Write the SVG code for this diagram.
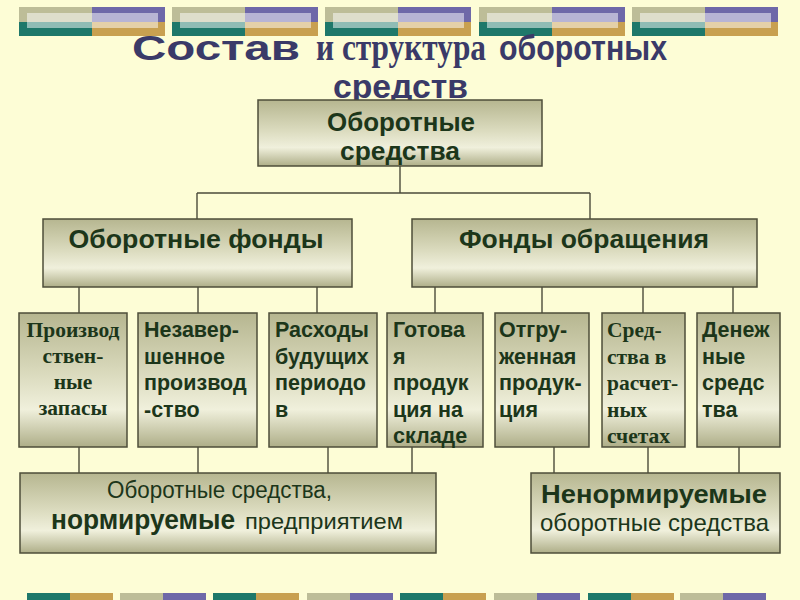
<svg xmlns="http://www.w3.org/2000/svg" width="800" height="600" viewBox="0 0 800 600">
<style>
.box{fill:url(#boxg);stroke:#4E4E3A;stroke-width:1.5}
.con line{stroke:#4A4A3A;stroke-width:1.4}
.t{font-family:"Liberation Sans",Arial,sans-serif;fill:#1C361A}
.b{font-weight:bold}
.s{font-family:"Liberation Serif","Times New Roman",serif;font-weight:bold;fill:#1C361A}
.ttl{font-family:"Liberation Sans",Arial,sans-serif;font-weight:bold;fill:#3A3A68}
.ttls{font-family:"Liberation Serif","Times New Roman",serif;font-weight:bold;fill:#3A3A68}
.l3{font-size:21.5px}
</style>
<defs>
<linearGradient id="boxg" x1="0" y1="0" x2="0" y2="1">
<stop offset="0" stop-color="#B6B690"/>
<stop offset="0.45" stop-color="#DADABD"/>
<stop offset="0.72" stop-color="#F0F0DC"/>
<stop offset="1" stop-color="#AEAE88"/>
</linearGradient>
<g id="bar">
<rect x="0" y="0" width="73" height="15" fill="#BDBD98"/>
<rect x="73" y="0" width="73" height="15" fill="#6E68A8"/>
<rect x="0" y="15" width="73" height="14" fill="#1E786A"/>
<rect x="73" y="15" width="73" height="14" fill="#C8A050"/>
<rect x="8" y="6" width="131" height="15" fill="#FFFFFF" opacity="0.5"/>
</g>
<g id="lbA">
<rect x="0" y="0" width="43" height="7" fill="#1E786A"/>
<rect x="43" y="0" width="43" height="7" fill="#C8A050"/>
</g>
<g id="lbB">
<rect x="0" y="0" width="43" height="7" fill="#BDBD98"/>
<rect x="43" y="0" width="43" height="7" fill="#6E68A8"/>
</g>
</defs>
<rect width="800" height="600" fill="#FDFDD6"/>

<g id="topbars">
<use href="#bar" x="19" y="7"/>
<use href="#bar" x="172" y="7"/>
<use href="#bar" x="325" y="7"/>
<use href="#bar" x="479" y="7"/>
<use href="#bar" x="632" y="7"/>
</g>
<g id="bottombars">
<use href="#lbA" x="27" y="593"/>
<use href="#lbB" x="120" y="593"/>
<use href="#lbA" x="213" y="593"/>
<use href="#lbB" x="307" y="593"/>
<use href="#lbA" x="400" y="593"/>
<use href="#lbB" x="494" y="593"/>
<use href="#lbA" x="588" y="593"/>
<use href="#lbB" x="680" y="593"/>
</g>

<g id="title">
<text class="ttl" x="132" y="60" font-size="35" textLength="168" lengthAdjust="spacingAndGlyphs">Состав</text>
<text class="ttls" x="316" y="60" font-size="37" textLength="170" lengthAdjust="spacingAndGlyphs">и структура</text>
<text class="ttl" x="499" y="60" font-size="35" textLength="168" lengthAdjust="spacingAndGlyphs">оборотных</text>
<text class="ttl" x="333" y="98" font-size="33" textLength="135" lengthAdjust="spacingAndGlyphs">средств</text>
</g>

<g id="connectors" class="con">
<line x1="400" y1="166" x2="400" y2="193"/>
<line x1="197" y1="193" x2="590" y2="193"/>
<line x1="197" y1="193" x2="197" y2="219"/>
<line x1="590" y1="193" x2="590" y2="219"/>
<line x1="79" y1="287" x2="79" y2="313"/>
<line x1="198" y1="287" x2="198" y2="313"/>
<line x1="317" y1="287" x2="317" y2="313"/>
<line x1="435" y1="287" x2="435" y2="313"/>
<line x1="542" y1="287" x2="542" y2="313"/>
<line x1="643" y1="287" x2="643" y2="313"/>
<line x1="733" y1="287" x2="733" y2="313"/>
<line x1="79" y1="447" x2="79" y2="473"/>
<line x1="198" y1="447" x2="198" y2="473"/>
<line x1="328" y1="447" x2="328" y2="473"/>
<line x1="412" y1="447" x2="412" y2="473"/>
<line x1="554" y1="447" x2="554" y2="473"/>
<line x1="648" y1="447" x2="648" y2="473"/>
<line x1="739" y1="447" x2="739" y2="473"/>
</g>

<g id="n-root">
<rect class="box" x="258" y="100" width="284" height="66"/>
<text class="t b" x="401" y="131" font-size="25" text-anchor="middle" textLength="148" lengthAdjust="spacingAndGlyphs">Оборотные</text>
<text class="t b" x="400" y="160" font-size="25" text-anchor="middle" textLength="120" lengthAdjust="spacingAndGlyphs">средства</text>
</g>

<g id="n-funds">
<rect class="box" x="43" y="219" width="309" height="68"/>
<text class="t b" x="196" y="248" font-size="26" text-anchor="middle" textLength="255" lengthAdjust="spacingAndGlyphs">Оборотные фонды</text>
</g>
<g id="n-circ">
<rect class="box" x="412" y="219" width="345" height="68"/>
<text class="t b" x="584" y="248" font-size="26" text-anchor="middle" textLength="250" lengthAdjust="spacingAndGlyphs">Фонды обращения</text>
</g>

<g id="n-zapasy">
<rect class="box" x="19" y="313" width="108" height="134"/>
<text class="s l3" text-anchor="middle"><tspan x="73" y="337">Производ</tspan><tspan x="73" y="363">ствен-</tspan><tspan x="73" y="389">ные</tspan><tspan x="73" y="415">запасы</tspan></text>
</g>
<g id="n-nezav">
<rect class="box" x="138" y="313" width="119" height="134"/>
<text class="t b l3"><tspan x="144" y="337">Незавер-</tspan><tspan x="144" y="363.5">шенное</tspan><tspan x="144" y="390">производ</tspan><tspan x="144" y="416.5">-ство</tspan></text>
</g>
<g id="n-rashody">
<rect class="box" x="269" y="313" width="108" height="134"/>
<text class="t b l3"><tspan x="275" y="337">Расходы</tspan><tspan x="275" y="363.5">будущих</tspan><tspan x="275" y="390">периодо</tspan><tspan x="275" y="416.5">в</tspan></text>
</g>
<g id="n-gotovaya">
<rect class="box" x="387" y="313" width="96" height="134"/>
<text class="t b l3"><tspan x="393" y="337">Готова</tspan><tspan x="393" y="363.5">я</tspan><tspan x="393" y="390">продук</tspan><tspan x="393" y="416.5">ция на</tspan><tspan x="393" y="443">складе</tspan></text>
</g>
<g id="n-otgr">
<rect class="box" x="495" y="313" width="94" height="134"/>
<text class="t b l3"><tspan x="499" y="337">Отгру-</tspan><tspan x="499" y="363.5">женная</tspan><tspan x="499" y="390">продук-</tspan><tspan x="499" y="416.5">ция</tspan></text>
</g>
<g id="n-rasch">
<rect class="box" x="602" y="313" width="83" height="134"/>
<text class="s l3"><tspan x="607" y="337">Сред-</tspan><tspan x="607" y="363.5">ства в</tspan><tspan x="607" y="390">расчет-</tspan><tspan x="607" y="416.5">ных</tspan><tspan x="607" y="443">счетах</tspan></text>
</g>
<g id="n-den">
<rect class="box" x="697" y="313" width="83" height="134"/>
<text class="t b l3"><tspan x="702" y="337">Денеж</tspan><tspan x="702" y="363.5">ные</tspan><tspan x="702" y="390">средс</tspan><tspan x="702" y="416.5">тва</tspan></text>
</g>

<g id="n-norm">
<rect class="box" x="20" y="473" width="416" height="80"/>
<text class="t" x="107" y="498" font-size="23" textLength="225" lengthAdjust="spacingAndGlyphs">Оборотные средства,</text>
<text class="t b" x="51" y="529" font-size="27" textLength="184" lengthAdjust="spacingAndGlyphs">нормируемые</text>
<text class="t" x="245" y="529" font-size="22" textLength="158" lengthAdjust="spacingAndGlyphs">предприятием</text>
</g>
<g id="n-nenorm">
<rect class="box" x="531" y="473" width="249" height="80"/>
<text class="t b" x="541" y="503" font-size="26" textLength="226" lengthAdjust="spacingAndGlyphs">Ненормируемые</text>
<text class="t" x="540" y="531" font-size="24" textLength="229" lengthAdjust="spacingAndGlyphs">оборотные средства</text>
</g>
</svg>
